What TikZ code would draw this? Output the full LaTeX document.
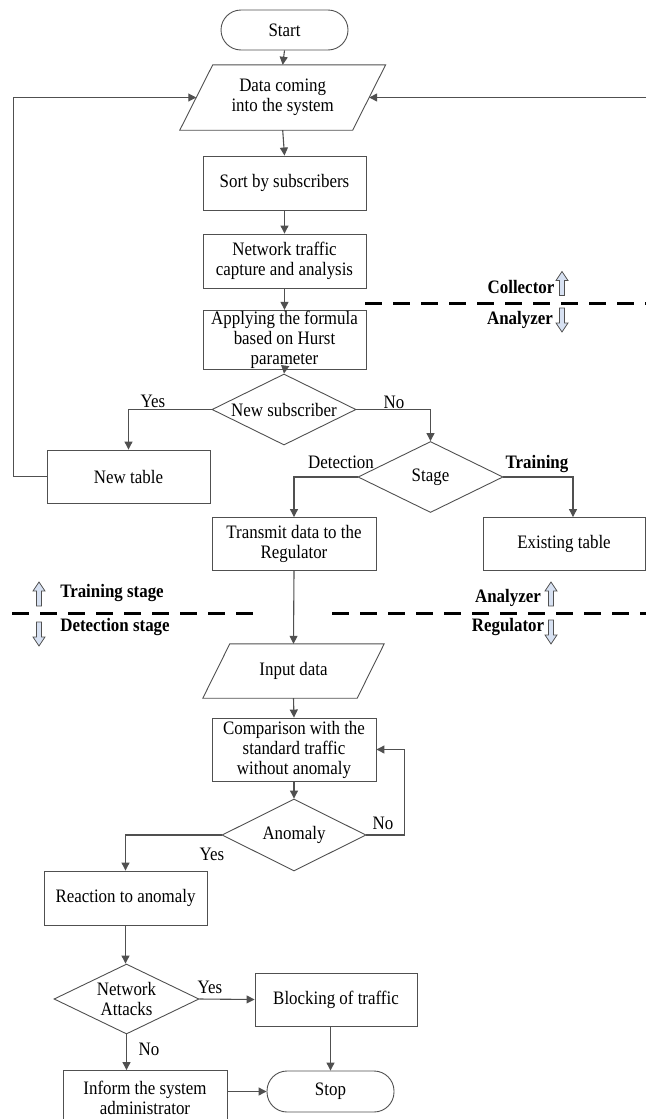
\documentclass[tikz,border=0pt]{standalone}
\usepackage{fontspec}
\setmainfont{Liberation Serif}[FakeStretch=0.89]
\usetikzlibrary{arrows.meta,shapes.geometric}
\definecolor{lg}{RGB}{80,80,80}
\definecolor{blkfill}{RGB}{215,225,242}
\tikzset{
  every node/.style={font=\fontsize{19}{20}\selectfont, text=black},
  box/.style={draw=lg, line width=0.9pt, rectangle, align=center, inner sep=1pt},
  term/.style={box, rounded corners=20pt},
  dec/.style={draw=lg, line width=0.9pt, diamond, aspect=2, inner sep=0pt, align=center},
  io/.style={align=center, inner sep=0pt, rectangle},
  arr/.style={draw=lg, line width=1.1pt, -{Triangle[length=8pt,width=8pt]}},
  ln/.style={draw=lg, line width=1.1pt},
  sep/.style={draw=black, line width=3pt, dash pattern=on 17pt off 11pt},
  lab/.style={inner sep=0pt},
  blab/.style={inner sep=0pt, font=\fontsize{19}{20}\selectfont\bfseries},
  blk/.style={draw=lg, line width=0.8pt, fill=blkfill},
  uparr/.pic={\path[blk] (-2.5,12) -- (2.5,12) -- (2.5,-3) -- (6,-3) -- (0,-12) -- (-6,-3) -- (-2.5,-3) -- cycle;},
  dnarr/.pic={\path[blk] (-2.5,-12) -- (2.5,-12) -- (2.5,3) -- (6,3) -- (0,12) -- (-6,3) -- (-2.5,3) -- cycle;}
}
\begin{document}
\begin{tikzpicture}[x=1pt,y=-1pt]
\useasboundingbox (0,0) rectangle (646,1119);
\clip (0,0) rectangle (646,1119);

% nodes
\node[term, minimum width=127pt, minimum height=40pt] (start) at (284.5,30) {Start};
\node[io, minimum width=172.5pt, minimum height=65pt] (data) at (282.7,97.5) {Data coming\\into the system};
\draw[draw=lg, line width=0.9pt] ([xshift=16.5pt]data.north west) -- ([xshift=16.5pt]data.north east) -- ([xshift=-16.5pt]data.south east) -- ([xshift=-16.5pt]data.south west) -- cycle;
\node[box, minimum width=163pt, minimum height=54pt] (sort) at (284.5,183) {Sort by subscribers};
\node[box, minimum width=163pt, minimum height=54pt] (net) at (284.5,261) {Network traffic\\capture and analysis};
\node[box, minimum width=163pt, minimum height=56pt] (apply) at (284.5,340) {Applying the formula\\based on Hurst\\parameter};
\node[dec, minimum width=144pt, minimum height=71pt] (newsub) at (284,409.5) {New subscriber};
\node[box, minimum width=163pt, minimum height=53pt] (newtable) at (128.5,476.5) {New table};
\node[dec, minimum width=145pt, minimum height=71pt] (stage) at (430.5,477) {Stage};
\node[box, minimum width=164pt, minimum height=53pt] (transmit) at (294,544) {Transmit data to the\\Regulator};
\node[box, minimum width=162pt, minimum height=53pt] (existing) at (564,544) {Existing table};
\node[io, minimum width=154pt, minimum height=54pt] (input) at (293.5,671) {Input data};
\draw[draw=lg, line width=0.9pt] ([xshift=13.5pt]input.north west) -- ([xshift=13.5pt]input.north east) -- ([xshift=-13.5pt]input.south east) -- ([xshift=-13.5pt]input.south west) -- cycle;
\node[box, minimum width=164pt, minimum height=63pt] (comp) at (294,749.5) {Comparison with the\\standard traffic\\without anomaly};
\node[dec, minimum width=144pt, minimum height=72pt] (anomaly) at (294,835) {Anomaly};
\node[box, minimum width=163pt, minimum height=54pt] (reaction) at (125.5,898) {Reaction to anomaly};
\node[dec, minimum width=145pt, minimum height=70pt] (na) at (126.5,999) {Network\\Attacks};
\node[box, minimum width=162pt, minimum height=53pt] (blocking) at (336,999.5) {Blocking of traffic};
\node[box, minimum width=164pt, minimum height=54pt] (inform) at (145,1097.5) {Inform the system\\administrator};
\node[term, minimum width=127pt, minimum height=41pt] (stop) at (330.5,1091.5) {Stop};

% connectors
\draw[arr] (start.south) -- (data.north);
\draw[arr] (data.south) -- (sort.north);
\draw[arr] (sort.south) -- (net.north);
\draw[arr] (net.south) -- (apply.north);
\draw[arr] (apply.south) -- (newsub.north);
\draw[arr] (newsub.west) -| (newtable.north);
\draw[arr] (newtable.west) -- ++(-33,0) |- (data.west);
\coordinate (fbR) at (646,97.5);
\draw[arr] (fbR) -- (data.east);
\draw[arr] (newsub.east) -| (stage.north);
\draw[arr] (stage.west) -| (transmit.north);
\draw[arr] (stage.east) -| ([xshift=9pt]existing.north);
\draw[arr] (transmit.south) -- (input.north);
\draw[arr] (input.south) -- (comp.north);
\draw[arr] (comp.south) -- (anomaly.north);
\draw[arr] (anomaly.east) -- ++(38,0) |- (comp.east);
\draw[arr] (anomaly.west) -| (reaction.north);
\draw[arr] (reaction.south) -- (reaction.south |- na.north);
\draw[arr] (na.east) -- (blocking.west);
\draw[arr] (na.south) -- (na.south |- inform.north);
\draw[arr] (stop.north |- blocking.south) -- (stop.north);
\draw[arr] (inform.east |- stop.west) -- (stop.west);

% connector labels
\node[lab] (lyes1) at (153,401) {Yes};
\node[lab] (lno1) at (394,402) {No};
\node[lab] (ldet) at (341,462) {Detection};
\node[blab] (ltrain) at (537,464) {Training};
\node[lab] (lno2) at (383,823) {No};
\node[lab] (lyes2) at (212,854) {Yes};
\node[lab] (lyes3) at (210,987) {Yes};
\node[lab] (lno3) at (149,1049) {No};

% separators
\draw[sep] (365,303) -- (646,303);
\draw[sep] (12,613) -- (263,613);
\draw[sep] (332,613) -- (646,613);

\node[blab] (collector) at (521,287) {Collector};
\node[blab] (analyzer1) at (520,320) {Analyzer};
\node[blab] (trainst) at (112,593) {Training stage};
\node[blab] (detst) at (115,627) {Detection stage};
\node[blab] (analyzer2) at (508,598) {Analyzer};
\node[blab] (regulator) at (508,627) {Regulator};

\pic at (562,283.5) {uparr};
\pic at (562,320) {dnarr};
\pic at (39,594) {uparr};
\pic at (39,634) {dnarr};
\pic at (551,594) {uparr};
\pic at (551,632) {dnarr};
\end{tikzpicture}
\end{document}
